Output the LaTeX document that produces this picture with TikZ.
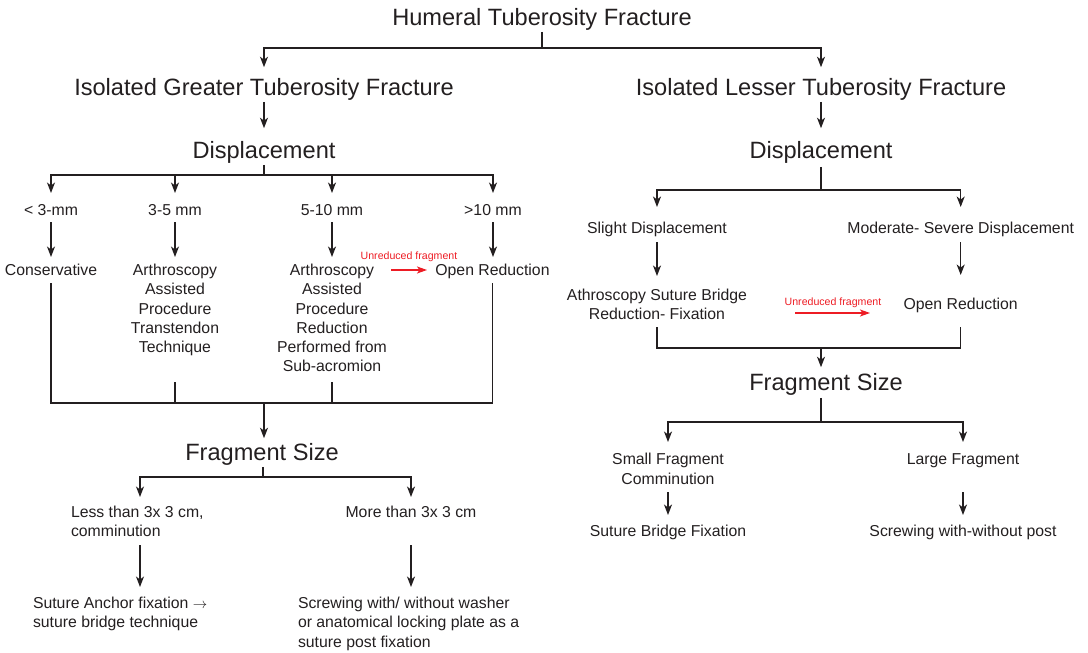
\documentclass[tikz,border=0pt]{standalone}
\usepackage{fontspec}
\setmainfont{Liberation Sans}
\usetikzlibrary{arrows.meta,calc}
\definecolor{ink}{HTML}{231F20}
\definecolor{redc}{HTML}{ED1C24}
\tikzset{
 lnk/.style={draw=ink, line width=1.3pt},
 arr/.style={lnk, -{Stealth[length=10.5pt,width=8pt,inset=3pt]}},
 redarr/.style={draw=redc, line width=1.3pt, -{Stealth[length=10pt,width=7pt,inset=2.5pt]}},
 big/.style={font=\fontsize{23.6}{28}\selectfont, text=ink, inner sep=0pt, outer sep=0pt, text height=17pt, text depth=0.6pt},
 sm/.style={font=\fontsize{15.8}{19.3}\selectfont, text=ink, inner sep=0pt, outer sep=0pt, text height=11.5pt, text depth=0.5pt},
 blk/.style={font=\fontsize{15.8}{19.3}\selectfont, text=ink, inner sep=0pt, outer sep=0pt, align=center, anchor=north},
 blkl/.style={font=\fontsize{15.8}{19.5}\selectfont, text=ink, inner sep=0pt, outer sep=0pt, align=left, anchor=north west},
 rlab/.style={font=\fontsize{10.6}{12}\selectfont, text=redc, inner sep=0pt, outer sep=0pt, text height=7.7pt, text depth=0.3pt},
}
\begin{document}
\begin{tikzpicture}[x=1pt,y=-1pt]
\useasboundingbox (0,0) rectangle (1088,653);

% ---------- nodes ----------
\node[big] (title) at (542,17) {Humeral Tuberosity Fracture};
\node[big] (gtf) at (264,87) {Isolated Greater Tuberosity Fracture};
\node[big] (ltf) at (821,87) {Isolated Lesser Tuberosity Fracture};
\node[big] (disp1) at (264,150) {Displacement};
\node[big] (disp2) at (821,150) {Displacement};

\node[sm] (l1) at (51,210) {< 3-mm};
\node[sm] (l2) at (175,210) {3-5 mm};
\node[sm] (l3) at (332,210) {5-10 mm};
\node[sm] (l4) at (493,210) {>10 mm};

\node[sm] (cons) at (51,270) {Conservative};
\node[blk] (arth1) at (175,264) {Arthroscopy\\Assisted\\Procedure\\Transtendon\\Technique};
\node[blk] (arth2) at (332,264) {Arthroscopy\\Assisted\\Procedure\\Reduction\\Performed from\\Sub-acromion};
\node[sm] (open1) at (492.5,270) {Open Reduction};
\node[rlab] (u1) at (409,256) {Unreduced fragment};

\node[big] (frag1) at (262,452) {Fragment Size};
\node[blkl] (lt) at (71,506) {Less than 3x 3 cm,\\comminution};
\node[sm] (mt) at (411,512) {More than 3x 3 cm};
\node[blkl] (sa) at (33,597) {Suture Anchor fixation $\rightarrow$\\suture bridge technique};
\node[blkl] (sw) at (298,597) {Screwing with/ without washer\\or anatomical locking plate as a\\suture post fixation};

\node[sm] (sd) at (657,227.5) {Slight Displacement};
\node[sm] (md) at (960.7,227.5) {Moderate- Severe Displacement};
\node[blk, font=\fontsize{15.8}{19}\selectfont] (ath) at (657,289) {Athroscopy Suture Bridge\\Reduction- Fixation};
\node[sm] (open2) at (960.7,303.5) {Open Reduction};
\node[rlab] (u2) at (833,302) {Unreduced fragment};
\node[big] (frag2) at (826,382) {Fragment Size};
\node[blk, font=\fontsize{15.8}{20}\selectfont] (sf) at (668,453) {Small Fragment\\Comminution};
\node[sm] (lf) at (963,459) {Large Fragment};
\node[sm] (sbf) at (668,531) {Suture Bridge Fixation};
\node[sm] (swp) at (963,531) {Screwing with-without post};

% ---------- junctions ----------
\coordinate (topbus) at (542,48);
\coordinate (db1) at (264,175);
\coordinate (bus1) at (264,403);
\coordinate (fb) at (263,477);
\coordinate (c140) at (140,477);
\coordinate (db2) at (821,190);
\coordinate (rb1) at (821,348);
\coordinate (rb2) at (821,422);

% ---------- top ----------
\draw[lnk] (title.south) ++(0,6) -- (topbus);
\draw[arr, shorten >=11pt] (topbus) -| (gtf.north);
\draw[arr, shorten >=11pt] (topbus) -| (ltf.north);

% ---------- left branch ----------
\draw[arr, shorten <=6pt, shorten >=13pt] (gtf) -- (disp1);
\draw[lnk] (disp1.south) ++(0,6) -- (db1);
\foreach \n in {l1,l2,l3,l4}{
  \draw[arr, shorten >=11pt] (db1) -| (\n.north);
}
\draw[arr, shorten <=6pt, shorten >=7pt] (l1.south) -- (cons.north);
\draw[arr, shorten <=6pt, shorten >=7pt] (l2.south) -- (arth1.north);
\draw[arr, shorten <=6pt, shorten >=7pt] (l3.south) -- (arth2.north);
\draw[arr, shorten <=6pt, shorten >=7pt] (l4.south) -- (l4.south |- open1.north);
\draw[redarr, shorten >=8.4pt] (arth2.north) ++(59,6) -- (open1.west);

\draw[lnk, shorten >=13pt] (cons.south) ++(0,7) |- (bus1) -| (open1.center);
\draw[lnk] (arth1.north) ++(0,118) -- (arth1.north |- bus1);
\draw[lnk] (arth2.north) ++(0,118) -- (arth2.north |- bus1);
\draw[arr, shorten >=5pt] (bus1) -- (bus1 |- frag1.north);

\draw[lnk] (frag1.south) ++(1,6) -- (fb);
\draw[arr, shorten >=9pt] (fb) -| (c140 |- lt.north);
\draw[arr, shorten >=9pt] (fb) -| (mt.north);
\draw[arr, shorten >=10pt] (lt.north west) ++(69,39) -- (c140 |- sa.north);
\draw[arr, shorten <=27pt, shorten >=10pt] (mt.south) -- (mt.south |- sw.north);

% ---------- right branch ----------
\draw[arr, shorten <=6pt, shorten >=13pt] (ltf) -- (disp2);
\draw[lnk] (disp2.south) ++(0,8) -- (db2);
\draw[arr, shorten >=14.5pt] (db2) -| (sd.north);
\draw[arr, shorten >=14.5pt] (db2) -| (md.north);
\draw[arr, shorten <=8.5pt, shorten >=13pt] (sd.south) -- (ath.north);
\draw[arr, shorten <=8.5pt] (md.south) -- ++(0,41.5);
\draw[redarr] (ath.north) ++(138,24) -- ++(75,0);

\draw[lnk, shorten >=17.5pt] (ath.north) ++(0,38) |- (rb1) -| (open2.south);
\draw[arr, shorten >=6pt] (rb1) -- (rb1 |- frag2.north);
\draw[lnk] (frag2.south) ++(-5,7) -- (rb2);
\draw[arr, shorten >=11pt] (rb2) -| (sf.north);
\draw[arr, shorten >=11pt] (rb2) -| (lf.north);
\draw[arr, shorten >=10pt] (sf.north) ++(0,39) -- (sbf.north);
\draw[arr, shorten <=27pt, shorten >=10pt] (lf.south) -- (swp.north);
\end{tikzpicture}
\end{document}
